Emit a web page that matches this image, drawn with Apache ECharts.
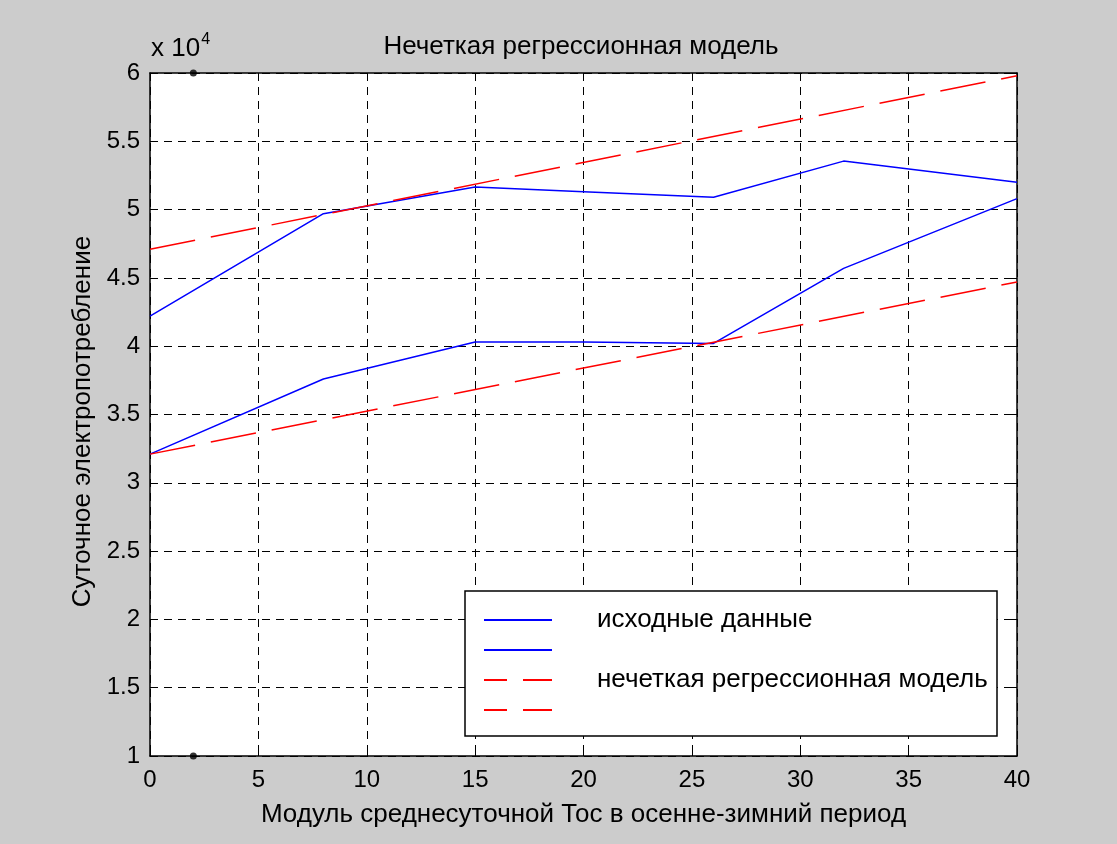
<!DOCTYPE html>
<html>
<head>
<meta charset="utf-8">
<script src="https://cdn.jsdelivr.net/npm/echarts@6/dist/echarts.min.js"></script>
<style>
html,body{margin:0;padding:0;background:#cccccc;}
#chart{width:1117px;height:844px;}
</style>
</head>
<body>
<div id="chart"></div>
<script>
// ---- data ----
var titleText = 'Нечеткая регрессионная модель';
var xLabel = 'Модуль среднесуточной Тос в осенне-зимний период';
var yLabel = 'Суточное электропотребление';
var legendNames = ['исходные данные', ' ', 'нечеткая регрессионная модель', '  '];

var dataX = [0, 8, 15, 20, 26, 32, 40];
var upperData = [42200, 49700, 51650, 51300, 50900, 53550, 52000];
var lowerData = [32100, 37600, 40300, 40300, 40200, 45700, 50800];

var modelX = [0, 40];
var modelUpper = [47100, 59800];
var modelLower = [32100, 44700];

var markerPts = [[2, 60000], [2, 10000]];

var xTicks = {min: 0, max: 40, step: 5};
var yTicks = {min: 10000, max: 60000, step: 5000, scale: 10000};

function pairs(xs, ys) { return xs.map(function (x, i) { return [x, ys[i]]; }); }

var FONT = '"Liberation Sans", Arial, sans-serif';
var chart = echarts.init(document.getElementById('chart'), null, {renderer: 'canvas'});

var gridDash = {color: '#000', width: 1, type: [8, 6]};
function xAx(pos, show) {
  return {
    type: 'value', position: pos, min: xTicks.min, max: xTicks.max, interval: xTicks.step,
    axisLine: {show: true, onZero: false, lineStyle: {color: '#000', width: 1.5}},
    axisTick: {show: true, inside: true, length: 6, lineStyle: {color: '#000'}},
    axisLabel: {show: show, color: '#000', fontSize: 24, fontFamily: FONT, margin: 12},
    splitLine: {show: show, lineStyle: gridDash},
    name: show ? xLabel : '', nameLocation: 'middle', nameGap: 46,
    nameTextStyle: {color: '#000', fontSize: 26, fontFamily: FONT}
  };
}
function yAx(pos, show) {
  return {
    type: 'value', position: pos, min: yTicks.min, max: yTicks.max, interval: yTicks.step,
    axisLine: {show: true, onZero: false, lineStyle: {color: '#000', width: 1.5}},
    axisTick: {show: true, inside: true, length: 6, lineStyle: {color: '#000'}},
    axisLabel: {show: show, color: '#000', fontSize: 24, fontFamily: FONT, margin: 10,
      formatter: function (v) { return String(v / yTicks.scale); }},
    splitLine: {show: show, lineStyle: gridDash},
    name: show ? yLabel : '', nameLocation: 'middle', nameGap: 52, nameRotate: 90,
    nameTextStyle: {color: '#000', fontSize: 26, fontFamily: FONT, padding: [0, 14, 0, 0]}
  };
}

var blue = {color: '#0000ff', width: 1.5, type: 'solid'};
var red = {color: '#ff0000', width: 1.5, type: [46, 16]};

var option = {
  backgroundColor: '#cccccc',
  animation: false,
  title: {
    text: titleText, left: 576, top: 29, textAlign: 'center',
    textStyle: {color: '#000', fontSize: 26, fontWeight: 'normal', fontFamily: FONT}
  },
  grid: {left: 150, top: 73, right: 100, bottom: 88, backgroundColor: '#ffffff', show: true, borderWidth: 0},
  xAxis: [xAx('bottom', true), xAx('top', false)],
  yAxis: [yAx('left', true), yAx('right', false)],
  legend: {
    orient: 'vertical', left: 478, top: 600, itemWidth: 68, itemHeight: 14, itemGap: 0,
    z: 20,
    itemStyle: {color: 'rgba(0,0,0,0)', borderWidth: 0, opacity: 0},
    textStyle: {color: '#000', fontSize: 26, lineHeight: 30, fontFamily: FONT, padding: [0, 0, 0, 40]},
    data: [
      {name: legendNames[0]},
      {name: legendNames[1]},
      {name: legendNames[2], lineStyle: {type: [23, 16, 29, 20]}},
      {name: legendNames[3], lineStyle: {type: [23, 16, 29, 20]}}
    ]
  },
  graphic: [
    {type: 'rect', z: 15, shape: {x: 465, y: 591, width: 532, height: 145},
      style: {fill: '#ffffff', stroke: '#000', lineWidth: 1.5}},
    {type: 'text', z: 15, left: 151, top: 32,
      style: {text: '{a|x 10}{b|4}', fill: '#000', fontFamily: FONT,
        rich: {a: {fontSize: 26, fontFamily: FONT, fill: '#000', verticalAlign: 'bottom'},
               b: {fontSize: 16, fontFamily: FONT, fill: '#000', verticalAlign: 'top', padding: [0, 0, 14, 1]}}}}
  ],
  series: [
    {name: legendNames[0], type: 'line', data: pairs(dataX, upperData), symbol: 'none', lineStyle: blue, itemStyle: {color: '#0000ff'}, z: 3},
    {name: legendNames[1], type: 'line', data: pairs(dataX, lowerData), symbol: 'none', lineStyle: blue, itemStyle: {color: '#0000ff'}, z: 3},
    {name: legendNames[2], type: 'line', data: pairs(modelX, modelUpper), symbol: 'none', lineStyle: red, itemStyle: {color: '#ff0000'}, z: 3},
    {name: legendNames[3], type: 'line', data: pairs(modelX, modelLower), symbol: 'none', lineStyle: red, itemStyle: {color: '#ff0000'}, z: 3},
    {name: 'markers', type: 'scatter', data: markerPts, symbolSize: 7, itemStyle: {color: '#000'}, clip: false, z: 6}
  ]
};
chart.setOption(option);
</script>
</body>
</html>
